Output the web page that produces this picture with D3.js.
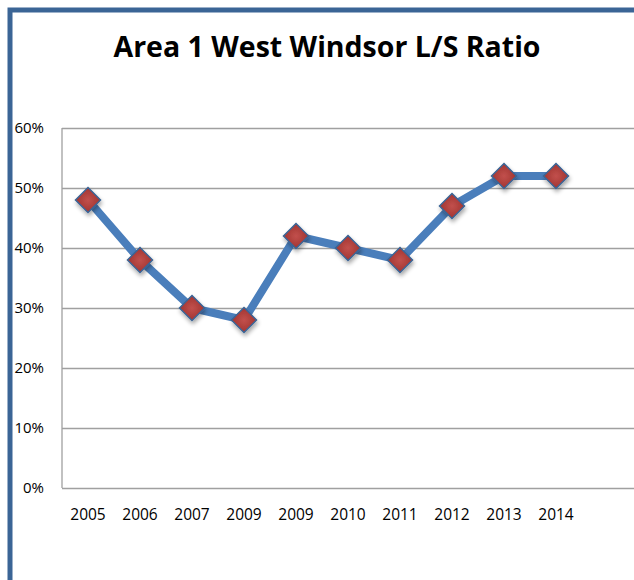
<!DOCTYPE html>
<html><head><meta charset="utf-8">
<script src="https://cdn.jsdelivr.net/npm/d3@7"></script>
<style>html,body{margin:0;padding:0;background:#fff;overflow:hidden}</style>
</head><body>
<svg id="c" width="634" height="580"></svg>
<script>
const title = "Area 1 West Windsor L/S Ratio";
const categories = ["2005","2006","2007","2009","2009","2010","2011","2012","2013","2014"];
const values = [0.48,0.38,0.30,0.28,0.42,0.40,0.38,0.47,0.52,0.52];
const yTicks = [0,0.1,0.2,0.3,0.4,0.5,0.6];

const svg = d3.select("#c");
const defs = svg.append("defs");
const rg = defs.append("radialGradient").attr("id","mk").attr("cx","50%").attr("cy","50%").attr("r","60%");
rg.append("stop").attr("offset","0%").attr("stop-color","#c2504c");
rg.append("stop").attr("offset","100%").attr("stop-color","#9a2f2c");
const f = defs.append("filter").attr("id","sh").attr("x","-50%").attr("y","-50%").attr("width","200%").attr("height","200%");
f.append("feDropShadow").attr("dx",1).attr("dy",3).attr("stdDeviation",2).attr("flood-color","#000").attr("flood-opacity",0.35);

// frame border
svg.append("path").attr("d","M10,580 L10,10 L634,10").attr("fill","none").attr("stroke","#3b6596").attr("stroke-width",5);

svg.append("text").attr("x",327).attr("y",57).attr("text-anchor","middle")
  .attr("font-family","'Open Sans', sans-serif").attr("font-weight","bold").attr("font-size",28.5)
  .attr("fill","#000").text(title);

const L=62, T=128, B=488, step=52;
const idx = categories.map((d,i)=>i);
const x = d3.scalePoint().domain(idx).range([L+step/2, L+step/2+step*(categories.length-1)]);
const y = d3.scaleLinear().domain([0,0.6]).range([B,T]);

const ga = svg.append("g").attr("transform",`translate(${L},0)`)
  .call(d3.axisRight(y).tickValues(yTicks).tickSize(634-L).tickFormat(()=>""));
ga.select(".domain").remove();
ga.selectAll(".tick line").attr("stroke","#a0a0a0").attr("stroke-width",1.3);

svg.append("line").attr("x1",L).attr("x2",L).attr("y1",T).attr("y2",B).attr("stroke","#a0a0a0").attr("stroke-width",1.3);

svg.append("g").selectAll("text").data(yTicks).join("text")
  .attr("x",44).attr("y",d=>y(d)+5).attr("text-anchor","end")
  .attr("font-family","'Open Sans', sans-serif").attr("font-size",15).attr("fill","#000")
  .text(d3.format(".0%"));

svg.append("g").selectAll("text").data(idx).join("text")
  .attr("x",i=>x(i)).attr("y",520).attr("text-anchor","middle")
  .attr("font-family","'Open Sans', sans-serif").attr("font-size",15.5).attr("fill","#000")
  .text(i=>categories[i]);

const line = d3.line().x(i=>x(i)).y(i=>y(values[i]));
svg.append("path").datum(idx).attr("d",line).attr("fill","none")
  .attr("stroke","#4a7ebb").attr("stroke-width",8).attr("stroke-linejoin","round");

const s=12.5;
svg.append("g").selectAll("path").data(idx).join("path")
  .attr("transform",i=>`translate(${x(i)},${y(values[i])})`)
  .attr("d",`M0,${-s}L${s},0L0,${s}L${-s},0Z`)
  .attr("fill","url(#mk)").attr("stroke","#3b6596").attr("stroke-width",1.5)
  .attr("filter","url(#sh)");
</script>
</body></html>
